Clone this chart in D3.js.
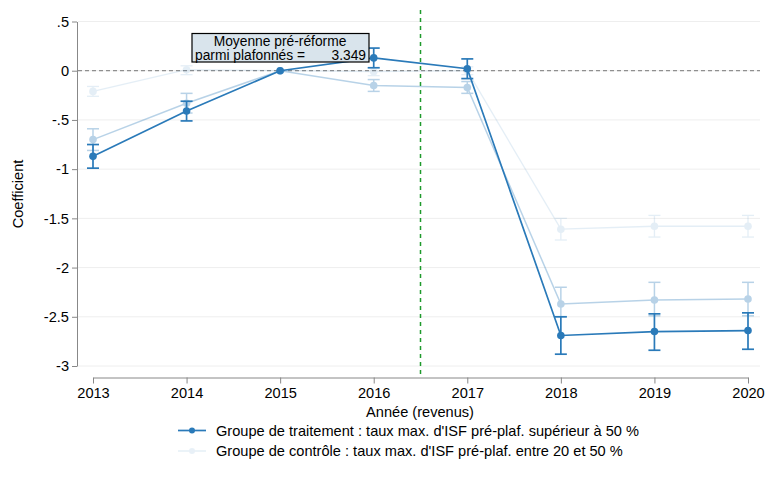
<!DOCTYPE html>
<html>
<head>
<meta charset="utf-8">
<script src="https://cdn.jsdelivr.net/npm/d3@7"></script>
<style>
  body { margin: 0; background: #fff; }
  text { font-family: "Liberation Sans", Arial, sans-serif; fill: #000; }
</style>
</head>
<body>
<svg id="chart" width="766" height="486"></svg>
<script>
// years and estimates
const years = [2013, 2014, 2015, 2016, 2017, 2018, 2019, 2020];

// treatment group (dark)
const treatCoef = [-0.87, -0.41, 0, 0.13, 0.02, -2.69, -2.65, -2.64];
const treatLo   = [-0.99, -0.51, null, 0.03, -0.08, -2.88, -2.84, -2.83];
const treatHi   = [-0.75, -0.31, null, 0.23, 0.12, -2.50, -2.47, -2.46];

// second series (mid transparency)
const midCoef = [-0.70, -0.33, 0, -0.15, -0.17, -2.37, -2.33, -2.32];
const midLo   = [-0.81, -0.43, null, -0.21, -0.23, -2.50, -2.49, -2.49];
const midHi   = [-0.59, -0.23, null, -0.09, -0.11, -2.20, -2.15, -2.15];

// third series (very faint)
const faintCoef = [-0.21, 0.01, 0, -0.01, 0.00, -1.61, -1.58, -1.58];
const faintLo   = [-0.26, -0.04, null, -0.05, -0.04, -1.72, -1.69, -1.69];
const faintHi   = [-0.16, 0.05, null, 0.03, 0.04, -1.50, -1.47, -1.47];

const yTicks = [0.5, 0, -0.5, -1, -1.5, -2, -2.5, -3];
const yTickLabels = [".5", "0", "-.5", "-1", "-1.5", "-2", "-2.5", "-3"];

const legendLabels = [
  "Groupe de traitement : taux max. d'ISF pré-plaf. supérieur à 50 %",
  "Groupe de contrôle : taux max. d'ISF pré-plaf. entre 20 et 50 %"
];

const blue = "#2a7ab9";
const fs = 14.6;
const svg = d3.select("#chart");

const x = d3.scaleLinear().domain([2013, 2020]).range([93, 748]);
const y = d3.scaleLinear().domain([-3, 0.5]).range([366, 21.5]);

// gridlines
svg.append("g").selectAll("line")
  .data(yTicks)
  .join("line")
  .attr("x1", 78).attr("x2", 760)
  .attr("y1", d => y(d)).attr("y2", d => y(d))
  .attr("stroke", "#eeeeee").attr("stroke-width", 1);

// zero reference line
svg.append("line")
  .attr("x1", 78).attr("x2", 760)
  .attr("y1", y(0)).attr("y2", y(0))
  .attr("stroke", "#777").attr("stroke-width", 1)
  .attr("stroke-dasharray", "4,3");

// reform line
svg.append("line")
  .attr("x1", x(2016.5)).attr("x2", x(2016.5))
  .attr("y1", 10).attr("y2", 377)
  .attr("stroke", "#1f9a2c").attr("stroke-width", 1.5)
  .attr("stroke-dasharray", "4,4");

// y axis
const yAxis = d3.axisLeft(y)
  .tickValues(yTicks)
  .tickFormat((d, i) => yTickLabels[i])
  .tickSize(5)
  .tickSizeOuter(0);
const gy = svg.append("g").attr("transform", "translate(77,0)").call(yAxis);
gy.select(".domain").attr("stroke", "#888");
gy.selectAll(".tick line").attr("stroke", "#888");
gy.selectAll(".tick text").attr("font-size", fs).attr("x", -8)
  .style("font-family", "Liberation Sans, Arial, sans-serif");

// x axis
const xAxis = d3.axisBottom(x)
  .tickValues(years)
  .tickFormat(d3.format("d"))
  .tickSize(6)
  .tickSizeOuter(0);
const gx = svg.append("g").attr("transform", "translate(0,377.5)").call(xAxis);
gx.select(".domain").attr("stroke", "#888");
gx.selectAll(".tick line").attr("stroke", "#888");
gx.selectAll(".tick text").attr("font-size", fs).attr("y", 10)
  .style("font-family", "Liberation Sans, Arial, sans-serif");

// axis titles
svg.append("text")
  .attr("transform", "translate(23,194) rotate(-90)")
  .attr("text-anchor", "middle")
  .attr("font-size", fs)
  .text("Coefficient");
svg.append("text")
  .attr("x", 420).attr("y", 417)
  .attr("text-anchor", "middle")
  .attr("font-size", fs)
  .text("Année (revenus)");

function drawSeries(coef, lo, hi, opacity, width) {
  const g = svg.append("g").attr("opacity", opacity);
  const pts = years.map((yr, i) => ({ yr, c: coef[i], lo: lo[i], hi: hi[i] }));
  const line = d3.line().x(d => x(d.yr)).y(d => y(d.c));
  g.append("path")
    .attr("d", line(pts))
    .attr("fill", "none")
    .attr("stroke", blue)
    .attr("stroke-width", width);
  const ci = pts.filter(d => d.lo !== null);
  g.selectAll("line.ci")
    .data(ci).join("line").attr("class", "ci")
    .attr("x1", d => x(d.yr)).attr("x2", d => x(d.yr))
    .attr("y1", d => y(d.lo)).attr("y2", d => y(d.hi))
    .attr("stroke", blue).attr("stroke-width", width);
  ["lo", "hi"].forEach(k => {
    g.selectAll("line.cap" + k)
      .data(ci).join("line").attr("class", "cap" + k)
      .attr("x1", d => x(d.yr) - 6).attr("x2", d => x(d.yr) + 6)
      .attr("y1", d => y(d[k])).attr("y2", d => y(d[k]))
      .attr("stroke", blue).attr("stroke-width", width);
  });
  g.selectAll("circle")
    .data(pts).join("circle")
    .attr("cx", d => x(d.yr)).attr("cy", d => y(d.c))
    .attr("r", 3.8)
    .attr("fill", blue);
}

drawSeries(faintCoef, faintLo, faintHi, 0.12, 1.3);
drawSeries(midCoef, midLo, midHi, 0.33, 1.5);
drawSeries(treatCoef, treatLo, treatHi, 1, 1.7);

// annotation box
const ann = svg.append("g");
ann.append("rect")
  .attr("x", 192).attr("y", 33.5)
  .attr("width", 177).attr("height", 28.5)
  .attr("fill", "#d9e4ec")
  .attr("stroke", "#000").attr("stroke-width", 1.2);
ann.append("text")
  .attr("x", 280).attr("y", 45.5)
  .attr("text-anchor", "middle")
  .attr("font-size", 13.8)
  .text("Moyenne pré-réforme");
ann.append("text")
  .attr("x", 195).attr("y", 60)
  .attr("font-size", 13.8)
  .text("parmi plafonnés =");
ann.append("text")
  .attr("x", 366).attr("y", 60)
  .attr("text-anchor", "end")
  .attr("font-size", 13.8)
  .text("3.349");

// legend
const legOpacity = [1, 0.1];
const leg = svg.append("g");
legendLabels.forEach((lab, i) => {
  const ly = 430.5 + i * 20.5;
  const g = leg.append("g").attr("opacity", legOpacity[i]);
  g.append("line")
    .attr("x1", 178).attr("x2", 206)
    .attr("y1", ly).attr("y2", ly)
    .attr("stroke", blue).attr("stroke-width", 1.7);
  g.append("circle")
    .attr("cx", 192).attr("cy", ly).attr("r", 3)
    .attr("fill", blue);
  leg.append("text")
    .attr("x", 216).attr("y", ly + 5)
    .attr("font-size", fs)
    .text(lab);
});
</script>
</body>
</html>
